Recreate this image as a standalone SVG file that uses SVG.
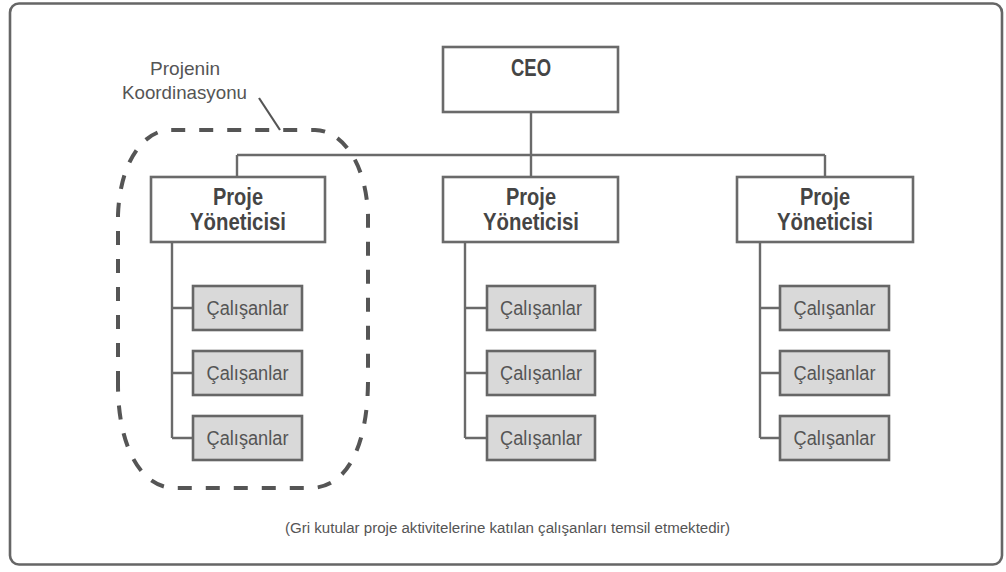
<svg xmlns="http://www.w3.org/2000/svg" width="1006" height="572" viewBox="0 0 1006 572">
<style>
.box{fill:#fff;stroke:#6a6a6a;stroke-width:2.6}
.emp{fill:#d9d9d9;stroke:#666;stroke-width:2.6}
.ln{stroke:#6a6a6a;stroke-width:2.4;fill:none}
.tb{font-family:"Liberation Sans",Arial,sans-serif;font-weight:bold;fill:#454545;text-anchor:middle}
.te{font-family:"Liberation Sans",Arial,sans-serif;font-size:20px;fill:#555;text-anchor:middle}
.tn{font-family:"Liberation Sans",Arial,sans-serif;fill:#555;text-anchor:middle}
</style>
<rect x="0" y="0" width="1006" height="572" fill="#fff"/>
<rect id="frame" x="10" y="3.5" width="992" height="561" rx="9" fill="none" stroke="#666" stroke-width="2.6"/>

<g id="connectors">
<path class="ln" d="M531 112 V177 M237 155 H825 M237 155 V177 M825 155 V177"/>
<path class="ln" d="M172 242 V438 M172 308 H193 M172 373 H193 M172 438 H193"/>
<path class="ln" d="M465 242 V438 M465 308 H487 M465 373 H487 M465 438 H487"/>
<path class="ln" d="M760 242 V438 M760 308 H780 M760 373 H780 M760 438 H780"/>
</g>

<g id="coordination">
<path d="M118 385 V215 C120 160 145 130 170 130 H315 C340 130 366 160 368 215 V380 C368 440 350 488 310 488 H175 C140 488 118 445 118 385 Z" fill="none" stroke="#555" stroke-width="4" stroke-dasharray="14 14"/>
<path d="M259 98 L280 130" stroke="#555" stroke-width="2.2" fill="none"/>
<text class="tn" x="185" y="75" font-size="19" textLength="70" lengthAdjust="spacingAndGlyphs">Projenin</text>
<text class="tn" x="184.5" y="99" font-size="19" textLength="125" lengthAdjust="spacingAndGlyphs">Koordinasyonu</text>
</g>

<g id="ceo">
<rect class="box" x="443" y="47" width="175" height="65"/>
<text class="tb" x="531" y="76" font-size="24" textLength="40" lengthAdjust="spacingAndGlyphs">CEO</text>
</g>

<g id="pm1">
<rect class="box" x="151" y="177" width="174" height="65"/>
<text class="tb" x="238" y="205" font-size="23" textLength="50" lengthAdjust="spacingAndGlyphs">Proje</text>
<text class="tb" x="238" y="230" font-size="23" textLength="96" lengthAdjust="spacingAndGlyphs">Yöneticisi</text>
</g>
<g id="pm2">
<rect class="box" x="443" y="177" width="175" height="65"/>
<text class="tb" x="531" y="205" font-size="23" textLength="50" lengthAdjust="spacingAndGlyphs">Proje</text>
<text class="tb" x="531" y="230" font-size="23" textLength="96" lengthAdjust="spacingAndGlyphs">Yöneticisi</text>
</g>
<g id="pm3">
<rect class="box" x="737" y="177" width="176" height="65"/>
<text class="tb" x="825" y="205" font-size="23" textLength="50" lengthAdjust="spacingAndGlyphs">Proje</text>
<text class="tb" x="825" y="230" font-size="23" textLength="96" lengthAdjust="spacingAndGlyphs">Yöneticisi</text>
</g>

<g id="e11"><rect class="emp" x="193" y="286" width="109" height="44"/><text class="te" x="247.5" y="315" textLength="82" lengthAdjust="spacingAndGlyphs">Çalışanlar</text></g>
<g id="e12"><rect class="emp" x="193" y="351" width="109" height="44"/><text class="te" x="247.5" y="380" textLength="82" lengthAdjust="spacingAndGlyphs">Çalışanlar</text></g>
<g id="e13"><rect class="emp" x="193" y="416" width="109" height="44"/><text class="te" x="247.5" y="445" textLength="82" lengthAdjust="spacingAndGlyphs">Çalışanlar</text></g>

<g id="e21"><rect class="emp" x="487" y="286" width="108" height="44"/><text class="te" x="541" y="315" textLength="82" lengthAdjust="spacingAndGlyphs">Çalışanlar</text></g>
<g id="e22"><rect class="emp" x="487" y="351" width="108" height="44"/><text class="te" x="541" y="380" textLength="82" lengthAdjust="spacingAndGlyphs">Çalışanlar</text></g>
<g id="e23"><rect class="emp" x="487" y="416" width="108" height="44"/><text class="te" x="541" y="445" textLength="82" lengthAdjust="spacingAndGlyphs">Çalışanlar</text></g>

<g id="e31"><rect class="emp" x="780" y="286" width="109" height="44"/><text class="te" x="834.5" y="315" textLength="82" lengthAdjust="spacingAndGlyphs">Çalışanlar</text></g>
<g id="e32"><rect class="emp" x="780" y="351" width="109" height="44"/><text class="te" x="834.5" y="380" textLength="82" lengthAdjust="spacingAndGlyphs">Çalışanlar</text></g>
<g id="e33"><rect class="emp" x="780" y="416" width="109" height="44"/><text class="te" x="834.5" y="445" textLength="82" lengthAdjust="spacingAndGlyphs">Çalışanlar</text></g>

<g id="note">
<text class="tn" x="507.5" y="533" font-size="14" textLength="445" lengthAdjust="spacingAndGlyphs">(Gri kutular proje aktivitelerine katılan çalışanları temsil etmektedir)</text>
</g>
</svg>
